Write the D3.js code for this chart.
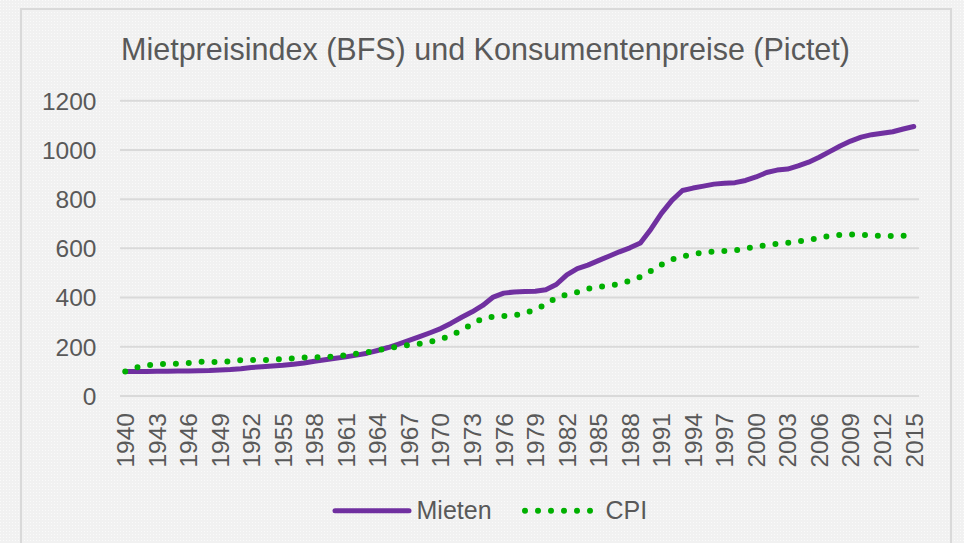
<!DOCTYPE html>
<html>
<head>
<meta charset="utf-8">
<script src="https://cdn.jsdelivr.net/npm/d3@7"></script>
<style>
  html, body { margin: 0; padding: 0; background: #f3f3f3; }
  svg { display: block; }
  text { font-family: "Liberation Sans", Arial, sans-serif; fill: #595959; }
</style>
</head>
<body>
<div id="chart"></div>
<script>
// --- data ---
const years = [
  1940, 1941, 1942, 1943, 1944, 1945, 1946, 1947, 1948, 1949,
  1950, 1951, 1952, 1953, 1954, 1955, 1956, 1957, 1958, 1959,
  1960, 1961, 1962, 1963, 1964, 1965, 1966, 1967, 1968, 1969,
  1970, 1971, 1972, 1973, 1974, 1975, 1976, 1977, 1978, 1979,
  1980, 1981, 1982, 1983, 1984, 1985, 1986, 1987, 1988, 1989,
  1990, 1991, 1992, 1993, 1994, 1995, 1996, 1997, 1998, 1999,
  2000, 2001, 2002, 2003, 2004, 2005, 2006, 2007, 2008, 2009,
  2010, 2011, 2012, 2013, 2014, 2015
];

const mieten = [
  100, 100, 100, 101, 101, 102, 102, 103, 104, 106,
  108, 111, 116, 119, 122, 125, 129, 134, 141, 147,
  153, 159, 166, 174, 185, 197, 211, 226, 241, 257,
  274, 296, 320, 342, 368, 402, 418, 423, 425, 426,
  432, 453, 492, 518, 532, 550, 568, 586, 602, 622,
  678, 742, 795, 835, 845, 853, 861, 865, 867, 876,
  890, 908, 918, 922, 935, 950, 970, 993, 1016, 1036,
  1052, 1062, 1068, 1074, 1085, 1095
];

const cpi = [
  100, 115, 125, 129, 130, 131, 134, 139, 138, 138,
  141, 146, 146, 146, 148, 150, 153, 156, 157, 158,
  161, 166, 172, 178, 186, 194, 202, 207, 212, 220,
  230, 246, 268, 292, 315, 322, 325, 328, 336, 352,
  372, 400, 412, 422, 436, 444, 448, 456, 468, 484,
  508, 534, 555, 567, 576, 584, 587, 589, 592, 600,
  607, 613, 618, 622, 628, 634, 643, 651, 655, 656,
  656, 652, 650, 650, 651, 650
];

const yTicks = [0, 200, 400, 600, 800, 1000, 1200];
const xTickLabels = [
  1940, 1943, 1946, 1949, 1952, 1955, 1958, 1961, 1964, 1967,
  1970, 1973, 1976, 1979, 1982, 1985, 1988, 1991, 1994, 1997,
  2000, 2003, 2006, 2009, 2012, 2015
];

const title = "Mietpreisindex (BFS) und Konsumentenpreise (Pictet)";
const seriesNames = ["Mieten", "CPI"];

// --- layout ---
const width = 964, height = 543;
const plot = { left: 120, right: 919, top: 100.7, bottom: 396 };
const purple = "#7030a0";
const green = "#00b000";
const grid = "#d9d9d9";

const svg = d3.select("#chart").append("svg")
  .attr("width", width)
  .attr("height", height);

// faint dotted paper texture like the original
const defs = svg.append("defs");
const pat = defs.append("pattern")
  .attr("id", "paper")
  .attr("width", 3).attr("height", 3)
  .attr("patternUnits", "userSpaceOnUse");
pat.append("rect").attr("width", 3).attr("height", 3).attr("fill", "#f1f1f1");
pat.append("rect").attr("width", 1).attr("height", 1).attr("fill", "#fafafa");

svg.append("rect").attr("width", width).attr("height", height).attr("fill", "url(#paper)");

// chart frame (bottom edge runs off the picture)
svg.append("rect")
  .attr("x", 21).attr("y", 9)
  .attr("width", 930).attr("height", 560)
  .attr("fill", "none")
  .attr("stroke", grid)
  .attr("stroke-width", 2);

const x = d3.scalePoint()
  .domain(years)
  .range([plot.left, plot.right])
  .padding(0.5);

const y = d3.scaleLinear()
  .domain([0, 1200])
  .range([plot.bottom, plot.top]);

// title
svg.append("text")
  .attr("x", 485.5)
  .attr("y", 60)
  .attr("text-anchor", "middle")
  .attr("font-size", 30.5)
  .text(title);

// gridlines + y labels
const yAxis = svg.append("g").attr("class", "y-axis");
yAxis.selectAll("line")
  .data(yTicks)
  .join("line")
  .attr("x1", plot.left)
  .attr("x2", plot.right)
  .attr("y1", (d) => y(d))
  .attr("y2", (d) => y(d))
  .attr("stroke", grid)
  .attr("stroke-width", 2);

yAxis.selectAll("text")
  .data(yTicks)
  .join("text")
  .attr("x", 96.5)
  .attr("y", (d) => y(d))
  .attr("dy", "0.36em")
  .attr("text-anchor", "end")
  .attr("font-size", 24.5)
  .text((d) => d);

// x labels, rotated
svg.append("g").attr("class", "x-axis")
  .selectAll("text")
  .data(xTickLabels)
  .join("text")
  .attr("transform", (d) => `translate(${x(d)},${plot.bottom + 17}) rotate(-90)`)
  .attr("dy", "0.36em")
  .attr("text-anchor", "end")
  .attr("font-size", 24.5)
  .text((d) => d);

// lines (CPI dots sit on top of the rent line, as in the original)
const line = d3.line()
  .x((d, i) => x(years[i]))
  .y((d) => y(d));

svg.append("path")
  .datum(mieten)
  .attr("d", line)
  .attr("fill", "none")
  .attr("stroke", purple)
  .attr("stroke-width", 5)
  .attr("stroke-linecap", "round")
  .attr("stroke-linejoin", "round");

svg.append("path")
  .datum(cpi)
  .attr("d", line)
  .attr("fill", "none")
  .attr("stroke", green)
  .attr("stroke-width", 6)
  .attr("stroke-linecap", "round")
  .attr("stroke-dasharray", "0 12.9");

// legend
const legend = svg.append("g").attr("class", "legend");
const ly = 510.7;

legend.append("line")
  .attr("x1", 335).attr("x2", 409)
  .attr("y1", ly).attr("y2", ly)
  .attr("stroke", purple)
  .attr("stroke-width", 5)
  .attr("stroke-linecap", "round");

legend.append("text")
  .attr("x", 416.5).attr("y", 519)
  .attr("font-size", 25)
  .text(seriesNames[0]);

legend.append("line")
  .attr("x1", 525).attr("x2", 591)
  .attr("y1", ly).attr("y2", ly)
  .attr("stroke", green)
  .attr("stroke-width", 6)
  .attr("stroke-linecap", "round")
  .attr("stroke-dasharray", "0 13");

legend.append("text")
  .attr("x", 605.5).attr("y", 519)
  .attr("font-size", 25)
  .text(seriesNames[1]);
</script>
</body>
</html>
